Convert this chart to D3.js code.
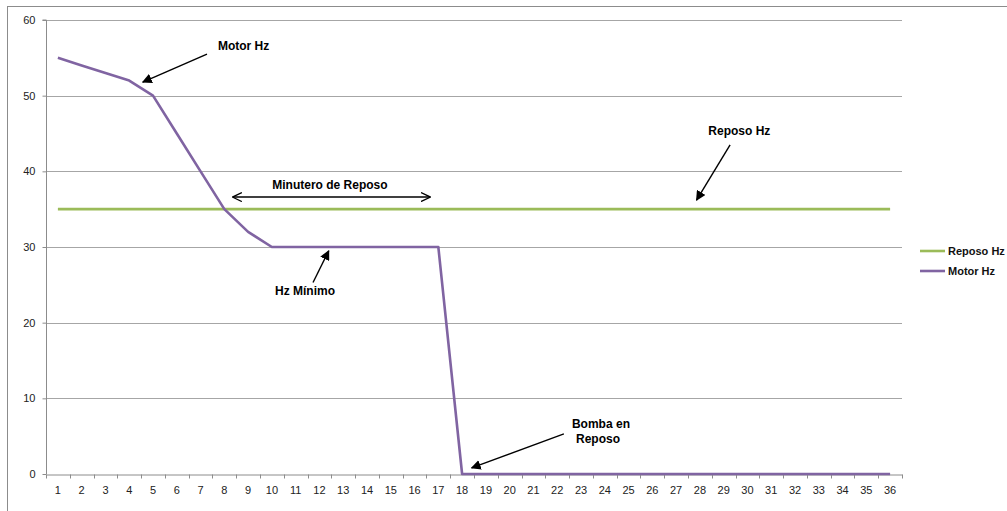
<!DOCTYPE html>
<html><head><meta charset="utf-8">
<script src="https://cdn.jsdelivr.net/npm/d3@7"></script>
<style>body{margin:0;background:#fff}svg{display:block}</style>
</head><body>
<script>
const categories = d3.range(1, 37).map(String);
const reposoHz = Array(36).fill(35);
const motorHz = [55,54,53,52,50,45,40,35,32,30,30,30,30,30,30,30,30,0,0,0,0,0,0,0,0,0,0,0,0,0,0,0,0,0,0,0];
const yTicks = [0,10,20,30,40,50,60];
const seriesNames = ["Reposo Hz","Motor Hz"];
const seriesColors = ["#9BBB59","#8064A2"];

const W = 1007, H = 511;
const svg = d3.select("body").append("svg").attr("width", W).attr("height", H);
svg.append("defs").append("marker").attr("id","ah").attr("viewBox","0 0 10 10")
  .attr("refX",9).attr("refY",5).attr("markerWidth",10).attr("markerHeight",10)
  .attr("markerUnits","userSpaceOnUse").attr("orient","auto")
  .append("path").attr("d","M0,0 L10,5 L0,10 z").attr("fill","#000");
svg.select("defs").append("marker").attr("id","ao").attr("viewBox","0 0 10 10")
  .attr("refX",9).attr("refY",5).attr("markerWidth",10).attr("markerHeight",10)
  .attr("markerUnits","userSpaceOnUse").attr("orient","auto-start-reverse")
  .append("path").attr("d","M0,0.5 L9.5,5 L0,9.5").attr("fill","none").attr("stroke","#000").attr("stroke-width",1.3);

svg.append("rect").attr("x",7.5).attr("y",6.5).attr("width",1100).attr("height",600)
  .attr("fill","none").attr("stroke","#8c8c8c").attr("stroke-width",1);

const L = 46, R = 902, T = 20, B = 474;
const x = d3.scaleBand().domain(categories).range([L, R]);
const y = d3.scaleLinear().domain([0, 60]).range([B, T]);
const cx = c => x(c) + x.bandwidth()/2;
// continuous helper for annotation positions (category units)
const xc = d3.scaleLinear().domain([0.5, 36.5]).range([L, R]);

// grid
svg.append("g").selectAll("line").data(yTicks.filter(d=>d>0)).join("line")
  .attr("x1",L).attr("x2",R).attr("y1",d=>Math.round(y(d))+0.5).attr("y2",d=>Math.round(y(d))+0.5)
  .attr("stroke","#a6a6a6").attr("stroke-width",1);

// axes
const yAxis = d3.axisLeft(y).tickValues(yTicks).tickSize(4).tickPadding(7);
const gy = svg.append("g").attr("transform",`translate(${L+0.5},0)`).call(yAxis);
const xAxis = d3.axisBottom(x).tickSize(0).tickPadding(12);
const gx = svg.append("g").attr("transform",`translate(0,${B+0.5})`).call(xAxis);
// x tick marks between categories
gx.selectAll("line.sep").data(d3.range(0,37)).join("line").attr("class","sep")
  .attr("x1",d=>Math.round(xc(d+0.5))+0.5).attr("x2",d=>Math.round(xc(d+0.5))+0.5)
  .attr("y1",0).attr("y2",4).attr("stroke","#8c8c8c");
[gx, gy].forEach(g=>{
  g.select(".domain").attr("stroke","#8c8c8c");
  g.selectAll(".tick line").attr("stroke","#8c8c8c");
  g.selectAll("text").attr("font-family","'Liberation Sans', Arial, sans-serif").attr("font-size",11).attr("fill","#222");
});
gy.select(".domain").attr("d",`M-4,${T}H0V${B}`);

// lines
const line = d3.line().x((d,i)=>cx(categories[i])).y(d=>y(d));
[reposoHz, motorHz].forEach((s,k)=>{
  svg.append("path").datum(s).attr("d",line).attr("fill","none")
    .attr("stroke",seriesColors[k]).attr("stroke-width",2.6).attr("stroke-linejoin","round");
});

// legend
const lg = svg.append("g");
seriesNames.forEach((n,k)=>{
  const yy = 251 + k*20;
  lg.append("line").attr("x1",920).attr("x2",945).attr("y1",yy).attr("y2",yy)
    .attr("stroke",seriesColors[k]).attr("stroke-width",2.6);
  lg.append("text").attr("x",948).attr("y",yy+4).text(n)
    .attr("font-family","'Liberation Sans', Arial, sans-serif").attr("font-size",11).attr("font-weight","bold").attr("fill","#111");
});

// annotations (category units, value units)
const ann = svg.append("g").attr("font-family","'Liberation Sans', Arial, sans-serif")
  .attr("font-size",12).attr("font-weight","bold").attr("fill","#000");
function arrow(c1,v1,c2,v2,m){
  ann.append("line").attr("x1",xc(c1)).attr("y1",y(v1)).attr("x2",xc(c2)).attr("y2",y(v2))
    .attr("stroke","#000").attr("stroke-width",1.4)
    .attr("marker-end",`url(#${m})`).attr("marker-start", m==="ao"?"url(#ao)":null);
}
function label(c,v,t,anchor){
  ann.append("text").attr("x",xc(c)).attr("y",y(v)).attr("text-anchor",anchor||"start").text(t);
}
label(7.73, 56.0, "Motor Hz");
arrow(7.27, 55.5, 4.57, 51.8, "ah");
label(29.66, 44.8, "Reposo Hz", "middle");
arrow(29.27, 43.5, 27.86, 36.2, "ah");
label(12.44, 37.6, "Minutero de Reposo", "middle");
arrow(8.36, 36.6, 16.65, 36.6, "ao");
label(10.13, 23.7, "Hz Mínimo");
arrow(11.73, 25.3, 12.39, 29.5, "ah");
label(22.62, 6.1, "Bomba en");
label(22.79, 4.1, "Reposo");
arrow(22.28, 5.3, 18.4, 0.8, "ah");
</script>
</body></html>
